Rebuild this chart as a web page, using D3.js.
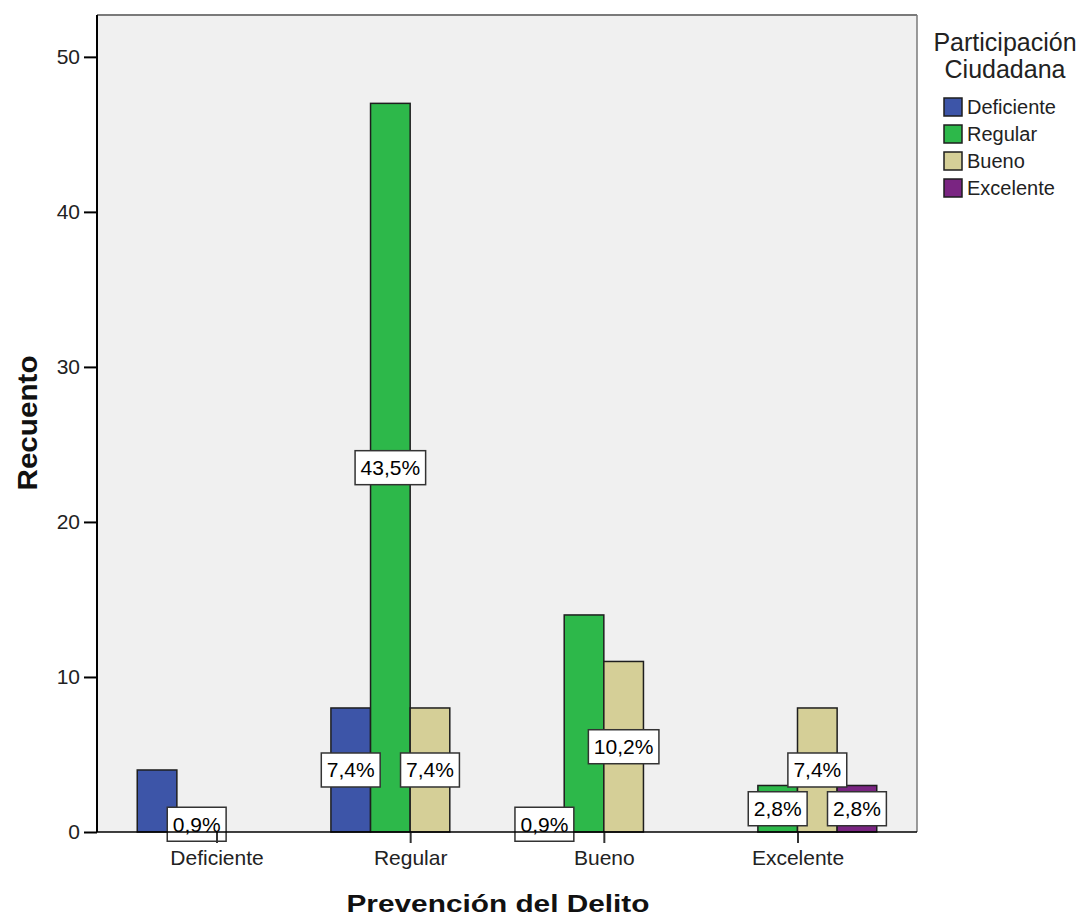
<!DOCTYPE html>
<html><head><meta charset="utf-8">
<script src="https://cdn.jsdelivr.net/npm/d3@7/dist/d3.min.js"></script>
<style>body{margin:0;background:#fff;}svg{display:block;font-family:"Liberation Sans",Arial,sans-serif;}</style>
</head><body>
<svg id="c" width="1084" height="919"></svg>
<script>
const categories = ["Deficiente","Regular","Bueno","Excelente"];
const seriesNames = ["Deficiente","Regular","Bueno","Excelente"];
const serDeficiente = [4, 8, 1, 0];
const serRegular = [1, 47, 14, 3];
const serBueno = [0, 8, 11, 8];
const serExcelente = [0, 0, 0, 3];
const lblDeficiente = [null, "7,4%", "0,9%", null];
const lblRegular = ["0,9%", "43,5%", null, "2,8%"];
const lblBueno = [null, "7,4%", "10,2%", "7,4%"];
const lblExcelente = [null, null, null, "2,8%"];
const yTicks = [0,10,20,30,40,50];
const colors = ["#3D55A8","#2DB84A","#D5CF97","#7A2582"];

const seriesVals = [serDeficiente, serRegular, serBueno, serExcelente];
const seriesLbls = [lblDeficiente, lblRegular, lblBueno, lblExcelente];

const svg = d3.select("#c");
const L = 97, R = 917, T = 15, B = 832;

const x = d3.scalePoint().domain(categories).range([L, R]).padding(0.617);
const groupW = 158.5;
const xs = d3.scaleBand().domain(seriesNames).range([-groupW/2, groupW/2]).padding(0);
const y = d3.scaleLinear().domain([0, 52.7]).range([B, T]);

// plot background
svg.append("rect").attr("x", L).attr("y", T).attr("width", R-L).attr("height", B-T).attr("fill", "#F0F0F0");
svg.append("line").attr("x1", L).attr("x2", R).attr("y1", T).attr("y2", T).attr("stroke", "#7a7a7a").attr("stroke-width", 2);
svg.append("line").attr("x1", R).attr("x2", R).attr("y1", T).attr("y2", B).attr("stroke", "#7a7a7a").attr("stroke-width", 1.5);

const rows = [];
seriesNames.forEach((s, si) => categories.forEach((c, ci) => rows.push({s, si, c, v: seriesVals[si][ci], lbl: seriesLbls[si][ci]})));

svg.append("g").selectAll("rect").data(rows.filter(d => d.v > 0)).join("rect")
  .attr("x", d => x(d.c) + xs(d.s))
  .attr("width", xs.bandwidth())
  .attr("y", d => y(d.v))
  .attr("height", d => y(0) - y(d.v))
  .attr("fill", d => colors[d.si])
  .attr("stroke", "#1e1e1e").attr("stroke-width", 1.5);

// labels
const lg = svg.append("g");
rows.filter(d => d.lbl).forEach(d => {
  const cx = x(d.c) + xs(d.s) + xs.bandwidth()/2;
  const cy = y(d.v/2);
  const g = lg.append("g");
  const t = g.append("text").attr("x", cx).attr("y", cy + 7.5).attr("text-anchor", "middle")
    .attr("font-size", 21).attr("fill", "#000").text(d.lbl);
  const w = t.node().getComputedTextLength() + 11;
  g.insert("rect", "text").attr("x", cx - w/2).attr("y", cy - 17).attr("width", w).attr("height", 34)
    .attr("fill", "#fff").attr("stroke", "#333").attr("stroke-width", 1.5);
});

// axes
const yAxis = svg.append("g").attr("transform", `translate(${L},0)`)
  .call(d3.axisLeft(y).tickValues(yTicks).tickSize(13).tickPadding(4).tickSizeOuter(0));
yAxis.select(".domain").remove();
yAxis.append("line").attr("x1", 0).attr("x2", 0).attr("y1", T).attr("y2", B).attr("stroke", "#000").attr("stroke-width", 2);
yAxis.selectAll(".tick line").attr("stroke", "#000").attr("stroke-width", 2);
yAxis.selectAll(".tick text").attr("font-size", 21).attr("fill", "#222").attr("font-family", "Liberation Sans, Arial, sans-serif");

const xAxis = svg.append("g").attr("transform", `translate(0,${B})`)
  .call(d3.axisBottom(x).tickSize(11).tickPadding(7).tickSizeOuter(0));
xAxis.select(".domain").remove();
xAxis.append("line").attr("x1", L).attr("x2", R).attr("y1", 0).attr("y2", 0).attr("stroke", "#000").attr("stroke-width", 1.5);
xAxis.selectAll(".tick line").attr("stroke", "#333").attr("stroke-width", 2);
xAxis.selectAll(".tick text").attr("font-size", 21).attr("fill", "#222").attr("font-family", "Liberation Sans, Arial, sans-serif");

// axis titles
svg.append("text").attr("x", 498).attr("y", 912).attr("text-anchor", "middle")
  .attr("font-size", 24).attr("font-weight", "bold").attr("fill", "#111")
  .attr("textLength", 303).attr("lengthAdjust", "spacingAndGlyphs").text("Prevención del Delito");
svg.append("text").attr("transform", "translate(37,423) rotate(-90)").attr("text-anchor", "middle")
  .attr("font-size", 27).attr("font-weight", "bold").attr("fill", "#111")
  .attr("textLength", 135).attr("lengthAdjust", "spacingAndGlyphs").text("Recuento");

// legend
const leg = svg.append("g");
leg.append("text").attr("x", 1005).attr("y", 51).attr("text-anchor", "middle").attr("font-size", 25).attr("fill", "#222").text("Participación");
leg.append("text").attr("x", 1005).attr("y", 78).attr("text-anchor", "middle").attr("font-size", 25).attr("fill", "#222").text("Ciudadana");
seriesNames.forEach((s, i) => {
  const yy = 98 + i * 27;
  leg.append("rect").attr("x", 944).attr("y", yy).attr("width", 18).attr("height", 18)
    .attr("fill", colors[i]).attr("stroke", "#1e1e1e").attr("stroke-width", 1.5);
  leg.append("text").attr("x", 967).attr("y", yy + 16).attr("font-size", 20).attr("fill", "#222").text(s);
});
</script>
</body></html>
